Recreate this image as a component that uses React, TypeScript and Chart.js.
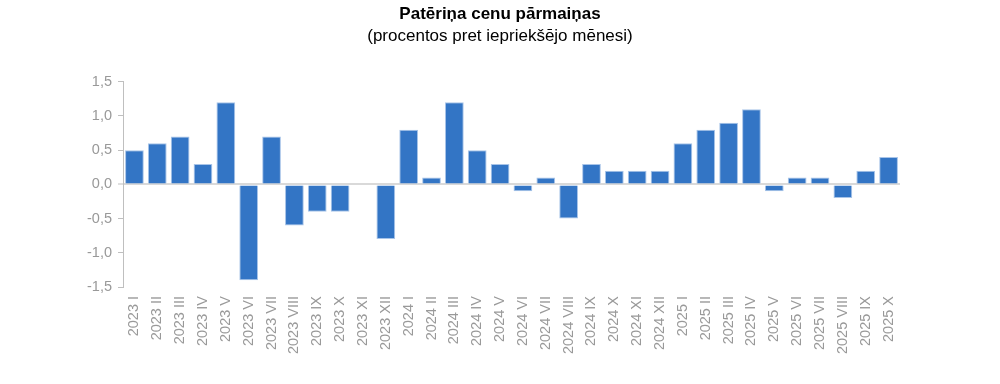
import React, { useEffect, useRef } from "react";
import { Chart, registerables } from "chart.js";

Chart.register(...registerables);

const categories = [
  "2023 I", "2023 II", "2023 III", "2023 IV", "2023 V", "2023 VI", "2023 VII", "2023 VIII", "2023 IX", "2023 X", "2023 XI", "2023 XII",
  "2024 I", "2024 II", "2024 III", "2024 IV", "2024 V", "2024 VI", "2024 VII", "2024 VIII", "2024 IX", "2024 X", "2024 XI", "2024 XII",
  "2025 I", "2025 II", "2025 III", "2025 IV", "2025 V", "2025 VI", "2025 VII", "2025 VIII", "2025 IX", "2025 X",
];

const changeValues = [
  0.5, 0.6, 0.7, 0.3, 1.2, -1.4, 0.7, -0.6, -0.4, -0.4, 0, -0.8,
  0.8, 0.1, 1.2, 0.5, 0.3, -0.1, 0.1, -0.5, 0.3, 0.2, 0.2, 0.2,
  0.6, 0.8, 0.9, 1.1, -0.1, 0.1, 0.1, -0.2, 0.2, 0.4,
];

const yTicks = [-1.5, -1.0, -0.5, 0, 0.5, 1.0, 1.5];

const titleText = "Patēriņa cenu pārmaiņas";
const subtitleText = "(procentos pret iepriekšējo mēnesi)";

export default function App() {
  const ref = useRef<HTMLCanvasElement | null>(null);

  useEffect(() => {
    document.body.style.margin = "0";
    if (!ref.current) return;
    const chart = new Chart(ref.current, {
      type: "bar",
      data: {
        labels: categories,
        datasets: [
          {
            data: changeValues,
            backgroundColor: "#3375C5",
            borderColor: "#a8c4e8",
            borderWidth: 1,
            barPercentage: 0.82,
            categoryPercentage: 1,
            yAxisID: "y",
          },
        ],
      },
      options: {
        animation: false,
        responsive: false,
        layout: { padding: 0 },
        plugins: {
          legend: { display: false },
          tooltip: { enabled: false },
          title: {
            display: true,
            text: titleText,
            color: "#000",
            font: { family: "Liberation Sans, Arial", size: 17, weight: "bold" },
            padding: { top: 4, bottom: 2 },
          },
          subtitle: {
            display: true,
            text: subtitleText,
            color: "#000",
            font: { family: "Liberation Sans, Arial", size: 17, weight: "normal" },
            padding: { top: 0, bottom: 35 },
          },
        },
        scales: {
          x: {
            grid: { display: false },
            border: { display: false },
            ticks: {
              color: "#999999",
              font: { family: "Liberation Sans, Arial", size: 14.5 },
              minRotation: 90,
              maxRotation: 90,
              autoSkip: false,
              padding: 1,
            },
            afterFit: (scale: any) => {
              scale.height = 97;
            },
          },
          y: {
            position: "left",
            min: -1.5,
            max: 1.5,
            afterBuildTicks: (scale: any) => {
              scale.ticks = yTicks.map((v) => ({ value: v }));
            },
            ticks: {
              color: "#999999",
              font: { family: "Liberation Sans, Arial", size: 14.5 },
              padding: 6,
              callback: (v: any) => Number(v).toFixed(1).replace(".", ","),
            },
            grid: {
              drawOnChartArea: true,
              color: (ctx: any) => (ctx.tick && ctx.tick.value === 0 ? "#d9d9d9" : "rgba(0,0,0,0)"),
              lineWidth: (ctx: any) => (ctx.tick && ctx.tick.value === 0 ? 2 : 1),
              tickColor: "#bfbfbf",
              tickLength: 5,
              tickWidth: 1,
            },
            border: { display: true, color: "#bfbfbf", width: 1 },
            afterFit: (scale: any) => {
              scale.width = 123;
            },
          },
          yRight: {
            position: "right",
            min: -1.5,
            max: 1.5,
            ticks: { display: false },
            grid: { display: false },
            border: { display: false },
            afterFit: (scale: any) => {
              scale.width = 100;
            },
          },
        },
      },
    });
    return () => chart.destroy();
  }, []);

  return (
    <div style={{ width: 1000, height: 384 }}>
      <canvas ref={ref} width={1000} height={384} style={{ width: 1000, height: 384 }} />
    </div>
  );
}
